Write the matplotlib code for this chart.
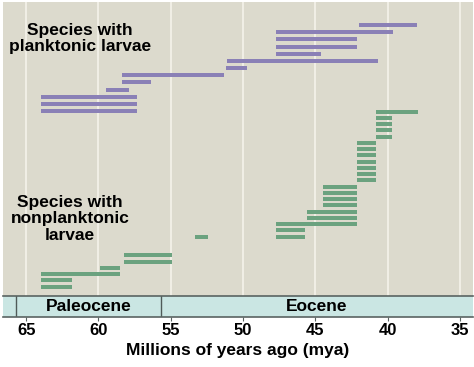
import matplotlib
matplotlib.use("Agg")
import matplotlib.pyplot as plt

plt.rcParams['font.family'] = ['Liberation Sans', 'DejaVu Sans']
plt.rcParams['font.weight'] = 'bold'

# species ranges (start mya, end mya), one per row, top to bottom
planktonic_start = [42.0, 47.7, 47.7, 47.7, 47.7, 51.1, 51.2, 58.4, 58.4, 59.5, 64.0, 64.0, 64.0]
planktonic_end = [38.0, 39.6, 42.1, 42.1, 44.6, 40.7, 49.7, 51.3, 56.4, 57.9, 57.3, 57.3, 57.3]
planktonic_row = [0, 1, 2, 3, 4, 5, 6, 7, 8, 9, 10, 11, 12]

nonplank_start = [40.8, 40.8, 40.8, 40.8, 40.8,
                  42.1, 42.1, 42.1, 42.1, 42.1, 42.1, 42.1,
                  44.5, 44.5, 44.5, 44.5, 45.6, 45.6, 47.7, 47.7, 47.7, 53.3,
                  58.2, 58.2, 59.9, 64.0, 64.0, 64.0]
nonplank_end = [37.9, 39.7, 39.7, 39.7, 39.7,
                40.8, 40.8, 40.8, 40.8, 40.8, 40.8, 40.8,
                42.1, 42.1, 42.1, 42.1, 42.1, 42.1, 42.1, 45.75, 45.75, 52.4,
                54.9, 54.9, 58.5, 58.5, 61.8, 61.8]
nonplank_row = [0, 1, 2, 3, 4,
                5, 6, 7, 8, 9, 10, 11,
                12, 13, 14, 15, 16, 17, 18, 19, 20, 20,
                23, 24, 25, 26, 27, 28]

epochs = ['Paleocene', 'Eocene']
epoch_start = [65.7, 55.7]
epoch_end = [55.7, 33.9]
ticks = [65, 60, 55, 50, 45, 40, 35]

purple = '#8a80b6'
green = '#6ba27f'
x_lo, x_hi = 66.6, 34.1

fig = plt.figure(figsize=(4.74, 3.67), dpi=100)
ax = fig.add_axes([3 / 474, 1 - 296 / 367, 470 / 474, 294 / 367])
band = fig.add_axes([3 / 474, 1 - 317 / 367, 470 / 474, 21 / 367], sharex=ax)

ax.set_facecolor('#dcdacd')
for t in ticks:
    ax.axvline(t, color='#f3f1e8', lw=1.3, zorder=0)

# rows laid out in pixel-like units, top down
p_y = [25 + 7.17 * r for r in planktonic_row]
n_y = [111.7 + 6.25 * r for r in nonplank_row]
ax.barh(p_y, [e - s for s, e in zip(planktonic_start, planktonic_end)],
        left=planktonic_start, height=4, color=purple, zorder=2)
ax.barh(n_y, [e - s for s, e in zip(nonplank_start, nonplank_end)],
        left=nonplank_start, height=4, color=green, zorder=2)

ax.text(61.3, 38.5, 'Species with\nplanktonic larvae', ha='center', va='center',
        fontsize=12.5, fontweight='bold', linespacing=1.1)
ax.text(61.95, 219, 'Species with\nnonplanktonic\nlarvae', ha='center', va='center',
        fontsize=12.5, fontweight='bold', linespacing=1.1)

ax.set_xlim(x_lo, x_hi)
ax.set_ylim(296, 2)
ax.set_xticks([])
ax.set_yticks([])
for s in ax.spines.values():
    s.set_visible(False)

band.set_facecolor('#cae6e3')
for name, s, e in zip(epochs, epoch_start, epoch_end):
    band.axvline(s, color='#4f5a58', lw=1.0)
    band.text((s + max(e, x_hi)) / 2, 0.5, name, ha='center', va='center',
              fontsize=12.5, fontweight='bold', transform=band.get_xaxis_transform())
band.set_yticks([])
band.set_ylim(0, 1)
for side in ['left', 'right']:
    band.spines[side].set_visible(False)
for side in ['top', 'bottom']:
    band.spines[side].set_color('#5a6462')
    band.spines[side].set_linewidth(1.2)
band.set_xticks(ticks)
band.set_xticklabels([str(t) for t in ticks], fontsize=12, fontweight='bold')
band.tick_params(axis='x', length=3, width=0.8, color='#5a6462', pad=1)
band.set_xlabel('Millions of years ago (mya)', fontsize=12.5, fontweight='bold', labelpad=4)

fig.savefig('out.png', dpi=100)
